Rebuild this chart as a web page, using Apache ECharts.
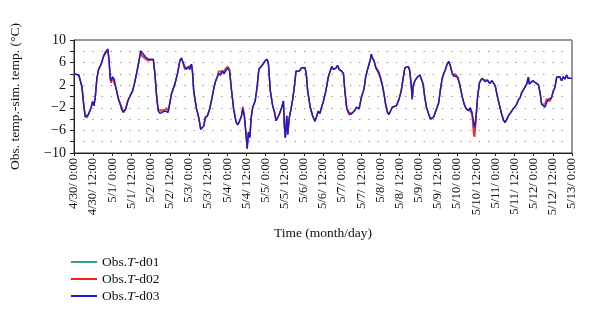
<!DOCTYPE html>
<html><head><meta charset="utf-8">
<script src="https://cdn.jsdelivr.net/npm/echarts@6/dist/echarts.min.js"></script>
<style>html,body{margin:0;padding:0;background:#fff}#c{width:600px;height:323px}</style>
</head><body><div id="c"></div>
<script>
// hours since 4/30 0:00
const hours = [0,3,5,6,7,8,9,10.8,11.6,12.5,13.3,14.3,15.4,17,18.5,19.5,20.6,21.2,22,22.7,23.3,24.1,25.2,26.2,27.9,29.5,30.6,31.4,32.4,33.7,35.1,36.6,37.8,39.3,40.3,41.8,42.4,43.5,44.9,46.6,48.2,49.7,50.7,51.8,52.8,53.8,55.3,56.9,58,59,61.1,63.2,64.8,66.3,67.3,68.4,69.4,70.5,71.5,72.5,73.6,74.2,75,76.7,78.1,79.4,80.2,81.3,82.3,83.6,85,86.5,87.7,88.8,89.8,90.6,91.9,92.9,94,95,96.4,97.5,98.5,100,101.6,102.7,103.7,104.8,105.8,106.8,107.9,108.5,109.3,110.2,111,112,113.5,114.7,115.8,117.2,118.3,119.7,121,121.8,123,124.5,125.6,126.6,127.7,128.7,130.2,131.2,131.8,132.4,133.3,133.9,134.9,136,137,138,139.1,140.1,141.2,142.6,143.7,144.7,145.5,146.4,148,149.5,150.9,152.2,153,154.1,155.1,156.3,157.8,159.3,160.5,161.5,162.6,164,165.1,166.1,167.6,168.8,169.7,170.9,172.4,173.8,175.5,177.1,178.6,180,181.7,182.7,184.2,185.5,186.3,187,188,189,190,191.1,192.1,193.2,194.2,195.3,196.3,197.3,198.4,199.4,200.4,202.1,203.6,205,206.3,207.3,208.4,209.4,210.4,211.3,211.9,212.5,213.6,215,216.7,217.7,218.7,219.8,220.8,222.3,223.3,224.4,225.4,226.4,227.5,228.5,229.6,230.6,231.6,232.7,233.7,234.8,235.8,236.8,237.9,238.9,240.4,241.6,243.1,244.5,245.8,247.2,248.3,249.3,250.4,251,251.8,252.9,254.1,255.6,256.6,257.7,259.1,260.4,261.8,262.9,263.9,265.4,266.6,268,269.1,270.1,271.2,272.2,273.7,275.3,277,278.4,279.5,280.5,281.6,282.6,283.6,284.7,285.3,286.1,287.4,288.8,289.9,290.9,292,293,294,295.1,296.1,297.2,298.2,299.2,300.3,301.3,302.4,303.4,304.4,305.5,306.5,307.6,308.6,309.6,310.7,312];

const d03 = [4.0,3.8,1.6,-1.4,-3.6,-3.8,-3.2,-1.9,-0.9,-1.6,-0.2,3.1,4.8,5.7,7.2,7.8,7.6,8.4,6.3,3.4,2.8,3.5,3.1,1.6,-0.5,-1.9,-2.8,-3.0,-2.2,-0.8,0.1,0.9,2.2,4.2,5.7,8.1,7.8,7.5,7.0,6.6,6.6,6.6,4.0,-0.2,-2.6,-3.0,-2.8,-2.6,-2.4,-2.8,0.5,2.2,4.0,6.3,6.8,6.6,5.3,4.8,5.3,4.8,5.7,4.5,1.0,-2.2,-3.7,-5.8,-6.0,-5.2,-3.7,-3.4,-2.2,-0.2,1.6,2.8,3.4,4.0,3.8,4.5,4.0,4.5,5.0,4.5,1.6,-2.2,-4.6,-5.0,-4.9,-3.6,-2.1,-3.7,-7.3,-9.3,-6.3,-7.3,-3.7,-1.9,-0.8,1.6,4.8,5.3,5.7,6.3,6.6,5.8,1.0,-1.7,-2.8,-4.3,-4.3,-3.1,-1.9,-0.8,-5.2,-7.3,-3.4,-6.7,-3.7,-2.2,-0.5,1.6,4.5,4.8,4.5,5.1,5.3,5.1,4.0,1.0,-1.9,-3.4,-4.4,-3.4,-2.6,-3.0,-1.9,-0.8,1.0,3.4,4.5,5.3,4.8,5.0,5.5,4.8,4.5,4.1,1.0,-2.2,-3.2,-3.1,-2.6,-1.9,-2.2,-0.2,1.3,3.4,5.1,6.3,7.5,6.8,6.3,5.1,4.8,4.0,3.1,1.9,0.4,-1.6,-2.8,-3.2,-3.4,-1.9,-1.6,-1.6,-0.5,1.0,3.4,5.1,5.4,5.3,4.5,1.9,-0.5,1.9,2.8,3.4,3.8,4.0,2.2,-0.2,-1.9,-3.2,-4.0,-3.7,-3.6,-2.8,-1.9,-1.1,1.3,3.1,4.0,4.8,5.7,6.2,5.4,4.3,3.7,4.0,3.4,2.2,0.1,-1.4,-2.2,-2.5,-2.0,-2.8,-4.6,-5.5,-3.7,0.1,2.5,3.2,3.1,2.6,2.9,2.3,2.8,2.8,1.9,-0.2,-1.6,-3.2,-4.2,-4.6,-4.0,-3.4,-2.8,-2.1,-1.6,-0.6,-0.2,0.7,1.0,1.7,2.2,3.4,2.2,2.5,2.8,2.5,2.2,2.1,0.7,-1.4,-1.6,-1.9,-1.1,-0.5,-0.8,-0.2,1.0,1.6,3.4,3.1,3.5,2.8,3.5,3.1,3.8,3.2,3.5,3.2];

const d02 = [4.0,3.8,1.8,-1.0,-3.4,-3.8,-3.2,-1.9,-0.9,-1.6,-0.2,3.1,4.8,5.7,7.0,7.5,7.4,8.2,6.3,3.0,2.4,3.3,3.1,1.6,-0.5,-1.6,-2.4,-2.8,-2.2,-0.8,0.1,0.9,2.2,4.2,5.7,7.8,7.2,6.9,6.6,6.3,6.5,6.5,4.0,0.0,-2.4,-2.2,-2.4,-2.4,-2.0,-2.6,0.5,2.2,4.0,6.3,6.8,6.6,4.8,4.6,5.1,4.8,5.7,4.5,1.0,-2.0,-3.7,-5.8,-6.0,-5.2,-3.7,-3.4,-2.2,-0.2,1.6,2.8,3.6,4.5,4.5,4.8,4.5,5.0,5.3,4.7,1.6,-2.2,-4.6,-5.0,-4.9,-3.6,-1.8,-3.5,-7.0,-9.0,-6.3,-7.0,-3.7,-1.9,-0.8,1.6,4.8,5.3,5.7,6.3,6.6,5.8,1.0,-1.7,-2.6,-4.3,-4.3,-3.1,-1.9,-0.8,-5.2,-7.3,-3.4,-6.7,-3.7,-2.2,-0.5,1.6,4.5,4.8,4.5,5.1,5.3,5.1,4.0,1.0,-1.9,-3.4,-4.4,-3.4,-2.6,-3.0,-1.9,-0.8,1.0,3.4,4.5,5.3,4.8,5.0,5.5,4.8,4.5,4.1,1.0,-2.0,-2.8,-3.0,-2.6,-1.9,-2.2,-0.2,1.3,3.4,5.1,6.3,7.5,6.8,6.3,5.3,5.0,4.3,3.4,2.1,0.6,-1.3,-2.6,-3.2,-3.4,-1.9,-1.6,-1.6,-0.5,1.0,3.4,5.1,5.4,5.3,4.5,1.9,-0.5,1.9,2.8,3.4,3.8,4.0,2.2,-0.2,-1.9,-3.2,-4.0,-3.7,-3.6,-2.8,-1.9,-1.1,1.3,3.1,4.0,4.8,5.7,6.2,5.4,4.3,3.5,4.0,3.4,2.2,0.1,-1.4,-2.2,-2.3,-2.0,-3.0,-6.7,-7.1,-4.5,0.1,2.5,3.2,3.1,2.9,2.9,2.3,2.8,2.8,1.9,-0.2,-1.6,-3.2,-4.2,-4.6,-4.0,-3.4,-2.8,-2.1,-1.6,-0.6,-0.2,0.7,1.0,1.7,2.2,3.4,2.2,2.5,2.8,2.5,2.2,2.1,0.7,-1.4,-1.6,-1.3,-0.4,-0.5,-0.8,-0.2,1.0,1.6,3.4,3.1,3.5,2.8,3.5,3.1,3.8,3.2,3.5,3.2];

const d01 = [4.0,3.8,1.7,-1.2,-3.5,-3.8,-3.2,-1.9,-0.9,-1.6,-0.2,3.1,4.8,5.7,7.1,7.6,7.5,8.3,6.3,3.2,2.6,3.4,3.1,1.6,-0.5,-1.7,-2.6,-2.9,-2.2,-0.8,0.1,0.9,2.2,4.2,5.7,7.9,7.5,7.2,6.8,6.4,6.5,6.5,4.0,-0.1,-2.5,-2.6,-2.6,-2.5,-2.2,-2.7,0.5,2.2,4.0,6.3,6.8,6.6,5.0,4.7,5.2,4.8,5.7,4.5,1.0,-2.1,-3.7,-5.8,-6.0,-5.2,-3.7,-3.4,-2.2,-0.2,1.6,2.8,3.5,4.2,4.1,4.6,4.2,4.7,5.1,4.6,1.6,-2.2,-4.6,-5.0,-4.9,-3.6,-2.0,-3.6,-7.1,-9.1,-6.3,-7.1,-3.7,-1.9,-0.8,1.6,4.8,5.3,5.7,6.3,6.6,5.8,1.0,-1.7,-2.7,-4.3,-4.3,-3.1,-1.9,-0.8,-5.2,-7.3,-3.4,-6.7,-3.7,-2.2,-0.5,1.6,4.5,4.8,4.5,5.1,5.3,5.1,4.0,1.0,-1.9,-3.4,-4.4,-3.4,-2.6,-3.0,-1.9,-0.8,1.0,3.4,4.5,5.3,4.8,5.0,5.5,4.8,4.5,4.1,1.0,-2.1,-3.0,-3.0,-2.6,-1.9,-2.2,-0.2,1.3,3.4,5.1,6.3,7.5,6.8,6.3,5.2,4.9,4.1,3.2,2.0,0.5,-1.4,-2.7,-3.2,-3.4,-1.9,-1.6,-1.6,-0.5,1.0,3.4,5.1,5.4,5.3,4.5,1.9,-0.5,1.9,2.8,3.4,3.8,4.0,2.2,-0.2,-1.9,-3.2,-4.0,-3.7,-3.6,-2.8,-1.9,-1.1,1.3,3.1,4.0,4.8,5.7,6.2,5.4,4.3,3.6,4.0,3.4,2.2,0.1,-1.4,-2.2,-2.4,-2.0,-2.9,-5.5,-6.2,-4.1,0.1,2.5,3.2,3.1,2.7,2.9,2.3,2.8,2.8,1.9,-0.2,-1.6,-3.2,-4.2,-4.6,-4.0,-3.4,-2.8,-2.1,-1.6,-0.6,-0.2,0.7,1.0,1.7,2.2,3.4,2.2,2.5,2.8,2.5,2.2,2.1,0.7,-1.4,-1.6,-1.6,-0.8,-0.5,-0.8,-0.2,1.0,1.6,3.4,3.1,3.5,2.8,3.5,3.1,3.8,3.2,3.5,3.2];

const tickLabels = ['4/30/ 0:00','4/30/ 12:00','5/1/ 0:00','5/1/ 12:00','5/2/ 0:00','5/2/ 12:00','5/3/ 0:00','5/3/ 12:00','5/4/ 0:00','5/4/ 12:00','5/5/ 0:00','5/5/ 12:00','5/6/ 0:00','5/6/ 12:00','5/7/ 0:00','5/7/ 12:00','5/8/ 0:00','5/8/ 12:00','5/9/ 0:00','5/9/ 12:00','5/10/ 0:00','5/10/ 12:00','5/11/ 0:00','5/11/ 12:00','5/12/ 0:00','5/12/ 12:00','5/13/ 0:00'];
const yLabels = {'10':'10','6':'6','2':'2','-2':'\u22122','-6':'\u22126','-10':'\u221210'};
const names = ['Obs.{i|T}-d01','Obs.{i|T}-d02','Obs.{i|T}-d03'];
const colors = ['#2f9e8c','#ff1a1a','#1a1ad6'];

const serif = 'Liberation Serif';
const pair = arr => hours.map((h,i)=>[h,arr[i]]);
const chart = echarts.init(document.getElementById('c'));
chart.setOption({
  animation:false,
  textStyle:{fontFamily:serif},
  grid:{left:72,right:28,top:40,bottom:170,show:true,borderColor:'#333',borderWidth:1},
  legend:{
    orient:'vertical',left:66,top:250,itemGap:3,itemWidth:26,itemHeight:2,icon:'rect',
    data:['d01','d02','d03'],
    formatter:n=>names[['d01','d02','d03'].indexOf(n)],
    textStyle:{fontFamily:serif,fontSize:13.5,color:'#111',rich:{i:{fontStyle:'italic',fontFamily:serif,fontSize:13.5,color:'#111'}}}
  },
  xAxis:{
    type:'value',min:0,max:312,interval:12,
    name:'Time (month/day)',nameLocation:'middle',nameGap:73,
    nameTextStyle:{fontFamily:serif,fontSize:13.5,color:'#111'},
    axisLine:{onZero:false,lineStyle:{color:'#222'}},
    axisTick:{show:true,length:3,inside:false,lineStyle:{color:'#222'}},
    axisLabel:{rotate:90,fontSize:12.5,color:'#111',fontFamily:serif,margin:5,formatter:v=>tickLabels[Math.round(v/12)]},
    splitLine:{show:false}
  },
  yAxis:{
    type:'value',min:-10,max:10,interval:2,
    name:'Obs. temp.-sim. temp. (\u00b0C)',nameLocation:'middle',nameGap:52,
    nameTextStyle:{fontFamily:serif,fontSize:13.5,color:'#111'},
    axisLine:{show:true,onZero:false,lineStyle:{color:'#222'}},
    axisTick:{show:true,length:4,lineStyle:{color:'#222'}},
    axisLabel:{fontSize:14,color:'#111',fontFamily:serif,margin:8,formatter:v=>yLabels[String(v)]||''},
    splitLine:{show:true,lineStyle:{color:'#888',width:1,type:[1.2,8]}}
  },
  series:[
    {name:'d01',type:'line',data:pair(d01),showSymbol:false,lineStyle:{width:1.4,color:colors[0]},itemStyle:{color:colors[0]}},
    {name:'d02',type:'line',data:pair(d02),showSymbol:false,lineStyle:{width:1.4,color:colors[1]},itemStyle:{color:colors[1]}},
    {name:'d03',type:'line',data:pair(d03),showSymbol:false,lineStyle:{width:1.4,color:colors[2]},itemStyle:{color:colors[2]}}
  ]
});
</script></body></html>
